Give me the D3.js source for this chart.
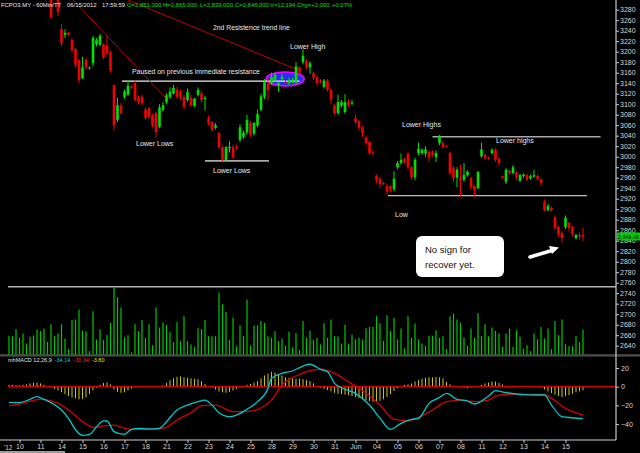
<!DOCTYPE html>
<html>
<head>
<meta charset="utf-8">
<script src="https://cdn.jsdelivr.net/npm/d3@7"></script>
<style>
html, body { margin: 0; padding: 0; background: #000; overflow: hidden; }
svg { display: block; }
text { font-family: "Liberation Sans", Arial, sans-serif; }
</style>
</head>
<body>
<div id="chart"></div>
<script>
// 60-minute bars, 10 May - 15 Jun 2012 (6 bars per session, first 3 from the previous day)
const opens = [3352,3345,3340,3338,3346,3342,3330,3334,3324,3328,3320,3326,3315,3312,3308,3243,3232,3236,3222,3205,
  3184,3150,3184,3168,3178,3214,3213,3214,3212,3199,3136,3070,3098,3114,3118,3134,3140,3112,3114,3090,
  3092,3079,3083,3057,3089,3104,3114,3121,3127,3124,3114,3108,3112,3097,3118,3121,3110,3072,3066,3055,
  3045,3018,2994,3016,3018,3019,3032,3038,3046,3064,3044,3060,3089,3114,3140,3140,3146,3136,3148,3142,
  3140,3143,3141,3170,3180,3182,3170,3159,3152,3145,3133,3145,3127,3098,3083,3098,3085,3104,3101,3073,
  3068,3056,3036,3028,3008,2964,2958,2950,2944,2944,2938,2980,2988,2996,3006,2980,2961,3007,3007,3006,
  3009,3009,2999,3026,3026,3021,3007,2978,2960,2959,2956,2965,2959,2944,2940,3001,3003,2998,3007,3013,
  2996,2963,2952,2973,2969,2970,2954,2963,2965,2959,2962,2963,2957,2914,2898,2903,2885,2866,2855,2866,
  2874,2866,2845,2851,2851];
const highs = [3360,3352,3348,3350,3355,3346,3338,3340,3332,3336,3330,3334,3322,3320,3315,3252,3243,3238,3226,3207,
  3186,3190,3188,3172,3230,3226,3234,3216,3232,3202,3138,3112,3102,3128,3146,3136,3145,3116,3118,3094,
  3095,3082,3086,3100,3104,3121,3132,3137,3133,3127,3118,3130,3118,3112,3132,3124,3116,3078,3068,3064,
  3047,3020,3020,3030,3022,3023,3062,3050,3080,3068,3066,3090,3120,3148,3150,3160,3160,3144,3158,3146,
  3150,3150,3180,3172,3205,3186,3182,3162,3155,3148,3148,3148,3130,3100,3118,3108,3119,3110,3108,3080,
  3070,3058,3040,3030,3012,2966,2962,2952,2948,2946,2972,2992,3006,2998,3008,2982,2998,3027,3016,3020,
  3012,3012,3012,3041,3030,3022,3010,2982,2980,2985,2988,2974,2962,2946,2973,3027,3006,3000,3016,3016,
  2998,2964,2978,2975,2984,2972,2968,2968,2968,2966,2975,2966,2959,2918,2910,2905,2888,2868,2858,2888,
  2876,2868,2853,2856,2865];
const lows = [3340,3336,3330,3332,3338,3325,3318,3320,3312,3316,3308,3310,3262,3301,3268,3210,3226,3230,3198,3170,
  3140,3148,3166,3166,3172,3210,3210,3186,3194,3160,3050,3066,3080,3110,3116,3129,3105,3100,3098,3070,
  3072,3056,3036,3054,3086,3100,3110,3118,3111,3108,3090,3105,3095,3094,3115,3104,3088,3060,3047,3052,
  3015,2991,2990,3008,2995,3014,3028,3034,3042,3038,3040,3056,3086,3110,3108,3136,3142,3124,3144,3136,
  3137,3140,3138,3156,3176,3166,3158,3146,3136,3140,3130,3124,3100,3080,3080,3094,3082,3094,3098,3062,
  3050,3038,3022,3004,3002,2950,2940,2946,2926,2932,2934,2976,2985,2986,2976,2956,2955,3003,3004,3000,
  2990,3000,2990,3022,3016,3018,2965,2952,2942,2922,2952,2962,2938,2924,2938,2998,2994,2994,3004,2990,
  2982,2958,2948,2966,2966,2956,2952,2960,2954,2956,2960,2955,2944,2896,2896,2895,2860,2848,2836,2862,
  2858,2848,2842,2842,2839];
const closes = [3345,3340,3335,3346,3342,3330,3334,3324,3328,3320,3326,3318,3266,3306,3276,3217,3236,3232,3203,3175,
  3146,3170,3170,3170,3226,3222,3230,3189,3197,3165,3060,3098,3083,3124,3135,3131,3108,3104,3102,3074,
  3076,3060,3047,3094,3098,3117,3124,3131,3114,3114,3095,3123,3098,3110,3127,3108,3112,3064,3051,3060,
  3018,2994,3018,3019,2999,3017,3056,3046,3070,3042,3064,3081,3115,3142,3127,3152,3156,3140,3152,3140,
  3146,3145,3172,3160,3192,3170,3178,3150,3140,3143,3145,3127,3108,3083,3104,3104,3104,3098,3103,3066,
  3055,3045,3026,3007,3006,2955,2948,2948,2933,2938,2958,2988,2994,2989,2980,2961,2994,3015,3013,3014,
  2999,3003,3007,3039,3018,3019,2969,2959,2975,2955,2965,2971,2942,2936,2971,3014,2997,2996,3013,2994,
  2988,2960,2975,2969,2980,2961,2965,2966,2956,2963,2965,2958,2950,2898,2906,2898,2864,2852,2845,2884,
  2864,2852,2851,2848,2848];
const volumes = [9100,8900,12300,8200,10200,5300,8600,9200,12100,11300,
  12600,6100,14700,8900,10200,14700,7800,2600,16700,17000,
  21800,11600,11200,1600,21000,7300,12300,7000,9500,15400,
  32300,27800,22800,8200,9400,1000,14700,11300,16700,8100,
  14700,4500,22800,13100,15700,14400,10800,6000,15700,6500,
  18600,6600,4900,3700,12800,12300,16700,8900,8900,8900,
  30100,24400,20700,7000,17800,4000,14200,8900,26700,4200,
  14100,14100,16300,15400,8900,8200,11300,6500,7800,4200,
  11000,3400,10500,2100,16300,8100,11500,7000,8100,4900,
  15200,8100,17000,8900,8900,5300,14400,5200,9700,7400,
  8100,7300,12800,13400,13400,18600,15200,6600,19100,11300,
  17800,7300,12600,2900,18600,8100,15000,7300,5300,4200,
  9100,9100,11800,8100,8900,2600,18600,19900,17000,15400,
  8200,4200,12600,8100,20200,8900,14700,8900,13100,11500,
  10200,3700,10200,12600,3700,11800,8600,2900,4500,1600,
  10200,7400,13400,7800,12600,2600,16300,9400,17000,5000,
  4000,4000,8900,6000,12194];

// MACD(12,26,9) read at these bar positions
const macdIdx = [0,3,6,8,9,12,15,17,19,21,23,25,27,28,30,33,35,37,40,43,45,48,51,54,56,58,60,63,65,68,71,74,75,78,81,84,86,89,91,93,95,99,103,106,109,112,115,117,120,123,125,128,131,133,137,139,142,146,151,153,155,158,161,164];
const macdVals = [-17,-17,-13.5,-10.6,-12,-17,-25,-34,-46,-52,-51,-43,-36.5,-36.7,-48,-51,-45.6,-44.5,-45.2,-44.5,-37.4,-25,-19.6,-16,-14.3,-19.6,-27.8,-32,-30.3,-24.2,-16,-1.8,9,14.3,16.8,22.1,24,18.6,16.1,3.6,-1.1,-7.1,-19.6,-33.9,-45.6,-39.2,-35,-33.9,-17.8,-11.4,-7.1,-13.5,-15.3,-18.5,-10,-4.3,-6.4,-8.2,-8.9,-8.9,-19.6,-32,-33.2,-34.14];
const sigIdx = [0,3,9,14,17,21,24,27,30,33,35,41,45,48,52,55,59,64,68,71,75,78,82,86,89,93,97,102,106,110,114,117,121,125,129,133,137,139,143,148,153,155,159,164];
const sigVals = [-20.6,-18.5,-13.5,-17.8,-25,-37.4,-43.5,-42,-41,-44.5,-45.6,-45.6,-43.5,-35.6,-27.8,-20.3,-19.6,-26.7,-26.7,-24.2,-14.3,1.8,11.4,17.1,18.9,14.3,5.3,-7.1,-19.6,-35,-36.4,-32.8,-24.9,-16,-14.3,-16,-14.3,-10,-7.8,-8.2,-8.2,-12.5,-23.2,-30.34];
const histVals = [2,2,1.5,1.5,2,2.5,3.5,4,4.5,3.5,2,0.5,
  -1,-2.5,-4,-6,-8,-10,-11.5,-12.5,-13.5,-13,-11.5,-8,-4,-1,2,4,4.5,2.5,
  -3,-5.5,-6.5,-6,-4,-2,-1,-0.5,0,0.3,0.5,0.3,0,0,
  1.5,4,7,9,10.5,11,10,9.5,9,8.5,8,6,3,0.5,
  -1,-3,-5,-6,-6.5,-5.5,-4,-2.5,-1,
  1,2,3,4.5,6,9,12,14,16,15,13,12,10,9.5,9,8.5,8.5,8,7,6,3.5,1,
  -1,-2.5,-3.5,-5,-6.5,-7.5,-8,-8.5,-9,-10,-11,-12,-13.5,-14.5,-15.5,-16,-16,-15,-13.5,-11,-8,-4.5,-1.5,
  1,2,2.5,3.5,5.5,7,8.5,9.5,10,10,10.5,10,9,5,2.5,1,0.5,-0.5,-1,-1.5,
  -1,-0.5,0.5,2,3.5,4.5,5.5,5.5,4,2.5,1,0.5,0,0,0,0,0,-0.3,-0.3,-0.5,
  -1,-3,-5,-7,-8.5,-10,-11,-10,-9,-7.5,-6,-5,-3.8];

const dayLabels = ["10","11","14","15","16","17","18","21","22","23","24","25","28","29","30","31","Jun","04","05","06","07","08","11","12","13","14","15"];
const priceTicks = d3.range(2640, 3281, 20);
const macdTicks = [20, 0, -20, -40];

window.addEventListener("DOMContentLoaded", () => {
    const W = 640, H = 453;
    const svg = d3.select("#chart").append("svg").attr("width", W).attr("height", H);
    svg.append("rect").attr("width", W).attr("height", H).attr("fill", "#000");

    const x = d3.scaleLinear().domain([0, 164]).range([9, 583]);
    const y = d3.scaleLinear().domain([3080, 2760]).range([114.7, 282.7]);
    const yv = d3.scaleLinear().domain([0, 32300]).range([354.5, 288]);
    const ym = d3.scaleLinear().domain([0, 20]).range([386.7, 368]);

    const UP = "#00e000", DN = "#f00000";

    svg.append("clipPath").attr("id", "pc")
        .append("rect").attr("x", 0).attr("y", 0).attr("width", 616).attr("height", 286);

    // annotation lines
    const ann = svg.append("g").attr("clip-path", "url(#pc)");
    const hline = (p, i0, i1, col, w) => ann.append("line")
        .attr("x1", x(i0)).attr("x2", x(i1)).attr("y1", y(p)).attr("y2", y(p))
        .attr("stroke", col).attr("stroke-width", w);
    hline(3144, 32.3, 83, "#f0f0f0", 1.2);
    hline(2992, 56, 74.3, "#a8a8a8", 1.6);
    hline(3038, 121, 169, "#a8a8a8", 1.4);
    hline(2926, 108.3, 165.1, "#c0c0c0", 1.2);
    ann.append("line").attr("x1", x(18.3)).attr("y1", y(3298.5)).attr("x2", x(45.4)).attr("y2", y(3108))
        .attr("stroke", "#c00000").attr("stroke-width", 1);
    ann.append("line").attr("x1", x(34)).attr("y1", y(3298.5)).attr("x2", x(82.6)).attr("y2", y(3165))
        .attr("stroke", "#c00000").attr("stroke-width", 1);

    // candles
    const cg = svg.append("g").attr("clip-path", "url(#pc)");
    const bars = d3.range(opens.length);
    const col = i => closes[i] >= opens[i] ? UP : DN;
    cg.selectAll("line.wick").data(bars).join("line")
        .attr("class", "wick")
        .attr("x1", i => x(i)).attr("x2", i => x(i))
        .attr("y1", i => y(highs[i])).attr("y2", i => y(lows[i]))
        .attr("stroke", col).attr("stroke-width", 1);
    cg.selectAll("rect.body").data(bars).join("rect")
        .attr("class", "body")
        .attr("x", i => x(i) - 1.3).attr("width", 2.6)
        .attr("y", i => y(Math.max(opens[i], closes[i])))
        .attr("height", i => Math.max(1, Math.abs(y(opens[i]) - y(closes[i]))))
        .attr("fill", col);

    // highlight ellipse
    ann.append("ellipse").attr("cx", x(78.9)).attr("cy", y(3148)).attr("rx", 19).attr("ry", 7)
        .attr("fill", "#2a2aff").style("mix-blend-mode", "screen")
        .attr("stroke", "#ff00ff").attr("stroke-width", 1.5);

    // annotation text
    const note = (t, px, py, fs, c) => svg.append("text").attr("x", px).attr("y", py)
        .attr("font-size", fs || 7).attr("fill", c || "#e8e8e8").text(t);
    note("2nd Resistence trend line", 213, 30, 6.8);
    note("Paused on previous immediate resistance", 132, 74, 6.9);
    note("Lower High", 290, 49);
    note("Lower Lows", 136, 146);
    note("Lower Lows", 213, 173);
    note("Lower Highs", 402, 127);
    note("Lower highs", 496, 143);
    note("Low", 395, 217);

    svg.append("rect").attr("x", 416).attr("y", 236).attr("width", 88).attr("height", 41)
        .attr("rx", 6).attr("fill", "#ffffff");
    note("No sign for", 425, 253, 9.5, "#111");
    note("recover yet.", 425, 268, 9.5, "#111");
    svg.append("line").attr("x1", 530).attr("y1", 257).attr("x2", 552).attr("y2", 250.5)
        .attr("stroke", "#fff").attr("stroke-width", 3.5).attr("stroke-linecap", "round");
    svg.append("path").attr("d", "M549,246 L559,247.5 L552,254 Z").attr("fill", "#fff");

    // panel separators
    svg.append("line").attr("x1", 8).attr("x2", 616).attr("y1", 286.7).attr("y2", 286.7)
        .attr("stroke", "#b4b4b4").attr("stroke-width", 1.6);
    svg.append("rect").attr("x", 0).attr("y", 354.2).attr("width", W).attr("height", 2.4).attr("fill", "#4a4a4a");

    // volume
    svg.append("g").selectAll("line").data(bars).join("line")
        .attr("x1", i => x(i)).attr("x2", i => x(i))
        .attr("y1", yv(0)).attr("y2", i => yv(volumes[i]))
        .attr("stroke", "#00c800").attr("stroke-width", 1.2);

    // MACD
    svg.append("g").selectAll("line").data(bars).join("line")
        .attr("x1", i => x(i)).attr("x2", i => x(i))
        .attr("y1", ym(0)).attr("y2", i => ym(histVals[i]))
        .attr("stroke", "#c8c800").attr("stroke-width", 1);
    svg.append("line").attr("x1", 8).attr("x2", 616).attr("y1", ym(0)).attr("y2", ym(0))
        .attr("stroke", "#d00000").attr("stroke-width", 1.2);
    const ln = d3.line().x(d => x(d[0])).y(d => ym(d[1])).curve(d3.curveMonotoneX);
    svg.append("path").attr("d", ln(d3.zip(sigIdx, sigVals)))
        .attr("fill", "none").attr("stroke", "#d40000").attr("stroke-width", 1.3);
    svg.append("path").attr("d", ln(d3.zip(macdIdx, macdVals)))
        .attr("fill", "none").attr("stroke", "#00c8c8").attr("stroke-width", 1.3);

    const lab = svg.append("text").attr("x", 8).attr("y", 362).attr("font-size", 5.5);
    [["mhMACD 12,26,9", "#e0e0e0", 0], ["-34.14", "#00d0d0", 3], ["-30.34", "#ff2020", 3], ["-3.80", "#e0e000", 3]]
        .forEach(d => lab.append("tspan").attr("dx", d[2]).attr("fill", d[1]).text(d[0]));

    // axes
    const styleAxis = g => {
        g.select(".domain").remove();
        g.selectAll("line").attr("stroke", "#c8c8c8");
        g.selectAll("text").attr("fill", "#d8d8d8").attr("font-size", 7)
            .attr("font-family", "Liberation Sans, Arial, sans-serif");
    };
    svg.append("g").attr("transform", "translate(616,0)")
        .call(d3.axisRight(y).tickValues(priceTicks).tickSize(3).tickPadding(1).tickFormat(d3.format("d")))
        .call(styleAxis);
    svg.append("g").attr("transform", "translate(616,0)")
        .call(d3.axisRight(ym).tickValues(macdTicks).tickSize(3).tickPadding(2).tickFormat(d3.format("d")))
        .call(styleAxis);
    const dayStarts = dayLabels.map((d, k) => 3 + 6 * k);
    svg.append("g").attr("transform", "translate(0,440)")
        .call(d3.axisBottom(x).tickValues(dayStarts).tickSize(3).tickPadding(1).tickFormat((d, k) => dayLabels[k]))
        .call(styleAxis);
    svg.append("text").attr("x", 4).attr("y", 450).attr("font-size", 6.5).attr("fill", "#d8d8d8").text("'12");

    svg.append("line").attr("x1", 616).attr("x2", 616).attr("y1", 0).attr("y2", 440)
        .attr("stroke", "#c8c8c8").attr("stroke-width", 1.2);
    svg.append("line").attr("x1", 0).attr("x2", 616).attr("y1", 440).attr("y2", 440)
        .attr("stroke", "#d0d0d0").attr("stroke-width", 1);
    svg.append("line").attr("x1", 0).attr("x2", 65).attr("y1", 452).attr("y2", 452)
        .attr("stroke", "#d0d0d0").attr("stroke-width", 1.5);

    // last price tag
    const last = closes[closes.length - 1];
    svg.append("rect").attr("x", 617).attr("y", y(last) - 4).attr("width", 23).attr("height", 8).attr("fill", "#00d000");
    svg.append("text").attr("x", 618).attr("y", y(last) + 2).attr("font-size", 5.4).attr("fill", "#000")
        .text(d3.format(",.2f")(last));

    // header
    const hdr = svg.append("g").attr("font-size", 5.9);
    [["FCPO3.MY - 60Min/TT", 1, "#e8e8e8"], ["06/15/2012", 67, "#e8e8e8"], ["17:59:59", 102, "#e8e8e8"],
     ["O=2,851.000", 127, "#00e000"], ["H=2,865.000", 163, "#00e000"], ["L=2,839.000", 200, "#00e000"],
     ["C=2,848.000", 235, "#00e000"], ["V=12,194", 270, "#00e000"], ["Chg=+2.000", 297, "#00e000"],
     ["+0.07%", 332, "#00e000"]].forEach(d => {
        hdr.append("text").attr("x", d[1]).attr("y", 7).attr("fill", d[2]).text(d[0]);
    });
});
</script>
</body>
</html>
